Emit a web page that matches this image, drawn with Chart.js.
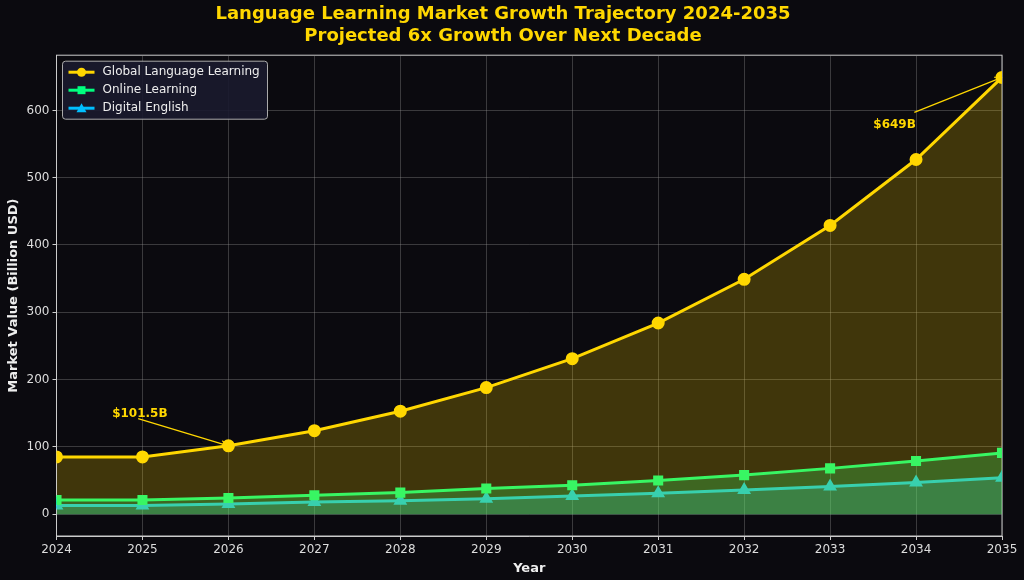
<!DOCTYPE html>
<html><head><script src="https://cdn.jsdelivr.net/npm/chart.js"></script>
<style>body{margin:0;background:#0b0a0f}#w{width:1024px;height:580px}</style></head>
<body><div id="w"><canvas id="c"></canvas></div>
<script>
const years=[2024,2025,2026,2027,2028,2029,2030,2031,2032,2033,2034,2035];
const globalVals=[85,85,101.5,124,153,188,231,284,349,429,527,649];
const onlineVals=[21,21,24,28,32,38,43,50,58,68,79,91];
const englishVals=[13,13,15,18,20,23,27,31,36,41,47,54];
const yTicks=[0,100,200,300,400,500,600];
const pts=a=>a.map((v,i)=>({x:years[i],y:v}));
const F='DejaVu Sans';
const ann={id:'ann',afterDatasetsDraw(ch){const c=ch.ctx,x=ch.scales.x,y=ch.scales.y;
 c.save();c.strokeStyle='#FFD700';c.fillStyle='#FFD700';c.lineWidth=1.2;c.font='bold 12px '+F;
 const arr=(tx,ty,px,py)=>{c.beginPath();c.moveTo(tx,ty);c.lineTo(px,py);c.stroke();
  const a=Math.atan2(py-ty,px-tx);c.beginPath();c.moveTo(px,py);c.lineTo(px-8*Math.cos(a-0.4),py-8*Math.sin(a-0.4));c.moveTo(px,py);c.lineTo(px-8*Math.cos(a+0.4),py-8*Math.sin(a+0.4));c.stroke();};
 arr(x.getPixelForValue(2024.95),y.getPixelForValue(142),x.getPixelForValue(2026),y.getPixelForValue(101.5));
 c.textAlign='center';c.fillText('$101.5B',x.getPixelForValue(2024.97),y.getPixelForValue(148)+2);
 arr(x.getPixelForValue(2033.98),y.getPixelForValue(597),x.getPixelForValue(2035),y.getPixelForValue(649));
 c.fillText('$649B',x.getPixelForValue(2033.75),y.getPixelForValue(580)+4);
 c.restore();}};
const bg={id:'bg',beforeDraw(ch){const c=ch.ctx;c.save();c.fillStyle='#0b0a0f';c.fillRect(0,0,ch.width,ch.height);
 const a=ch.chartArea;c.strokeStyle='#cccccc';c.lineWidth=1;c.strokeRect(a.left,a.top,a.right-a.left,a.bottom-a.top);c.restore();}};
new Chart(document.getElementById('c'),{type:'line',
data:{datasets:[
{label:'Global Language Learning',data:pts(globalVals),borderColor:'#FFD700',backgroundColor:'rgba(255,215,0,0.22)',fill:'origin',borderWidth:3,pointRadius:5,pointBackgroundColor:'#FFD700',pointStyle:'circle',tension:0},
{label:'Online Learning',data:pts(onlineVals),borderColor:'#00FF7F',backgroundColor:'rgba(0,255,127,0.25)',fill:'origin',borderWidth:3,pointRadius:5,pointBackgroundColor:'#00FF7F',pointStyle:'rect',tension:0},
{label:'Digital English',data:pts(englishVals),borderColor:'#00BFFF',backgroundColor:'rgba(0,191,255,0.25)',fill:'origin',borderWidth:3,pointRadius:5,pointBackgroundColor:'#00BFFF',pointStyle:'triangle',tension:0}]},
options:{responsive:true,maintainAspectRatio:false,animation:false,
layout:{padding:{left:4,right:22,top:2,bottom:4}},
plugins:{title:{display:true,text:['Language Learning Market Growth Trajectory 2024-2035','Projected 6x Growth Over Next Decade'],color:'#FFD700',font:{family:F,size:18,weight:'bold'},padding:{top:2,bottom:8},lineHeight:1.1},
legend:{position:'chart',display:false},tooltip:{enabled:false}},
scales:{x:{type:'linear',min:2024,max:2035,ticks:{stepSize:1,color:'#dddddd',font:{family:F,size:12},callback:v=>String(v)},grid:{color:'rgba(150,150,150,0.35)',borderDash:[4,3],tickColor:'#ccc',tickLength:4},border:{color:'#ccc'},title:{display:true,text:'Year',color:'#eee',font:{family:F,size:13,weight:'bold'},padding:0}},
y:{min:-32.5,max:682,afterBuildTicks:s=>{s.ticks=yTicks.map(v=>({value:v}))},ticks:{color:'#dddddd',font:{family:F,size:12}},grid:{color:'rgba(150,150,150,0.35)',borderDash:[4,3],tickColor:'#ccc',tickLength:4},border:{color:'#ccc'},title:{display:true,text:'Market Value (Billion USD)',color:'#eee',font:{family:F,size:13,weight:'bold'},padding:2}}}},
plugins:[bg,ann,{id:'leg',afterDraw(ch){const c=ch.ctx,a=ch.chartArea;c.save();
 const x0=a.left+6,y0=a.top+6,w=205,h=58;c.fillStyle='rgba(25,25,45,0.9)';c.strokeStyle='#aaa';c.lineWidth=1;
 c.beginPath();c.roundRect(x0,y0,w,h,3);c.fill();c.stroke();
 c.font='12px '+F;c.textBaseline='middle';
 ch.data.datasets.forEach((d,i)=>{const yy=y0+11+i*18;c.strokeStyle=d.borderColor;c.lineWidth=3;c.beginPath();c.moveTo(x0+6,yy);c.lineTo(x0+32,yy);c.stroke();
  c.fillStyle=d.borderColor;c.beginPath();if(i==0)c.arc(x0+19,yy,4.5,0,7);else if(i==1)c.rect(x0+15,yy-4,8,8);else{c.moveTo(x0+19,yy-5);c.lineTo(x0+24,yy+4);c.lineTo(x0+14,yy+4);c.closePath();}c.fill();
  c.fillStyle='#eee';c.fillText(d.label,x0+40,yy);});c.restore();}}]});
</script></body></html>
